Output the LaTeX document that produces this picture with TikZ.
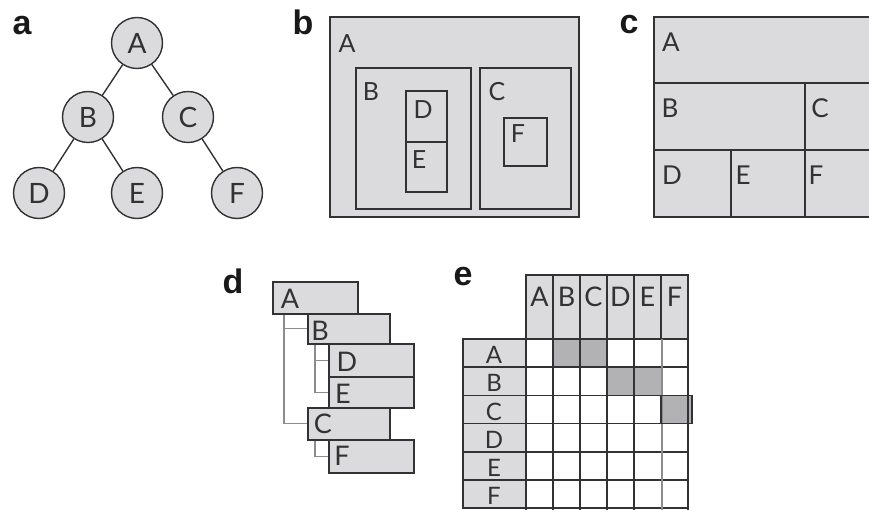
\documentclass[tikz,border=0pt]{standalone}
\usepackage{fontspec}
\setmainfont{Lato}
\newfontfamily\labfont{Liberation Sans}
\begin{document}
\definecolor{boxfill}{RGB}{219,219,221}
\definecolor{linec}{RGB}{50,50,52}
\definecolor{darkcell}{RGB}{178,178,180}
\definecolor{connc}{RGB}{140,140,142}
\definecolor{labc}{RGB}{25,25,25}
\tikzset{
  panellab/.style={font=\labfont\bfseries\fontsize{34}{34}\selectfont, text=labc, inner sep=0pt},
  circ/.style={circle, draw=linec, fill=boxfill, line width=1.4, minimum size=51, inner sep=0pt, font=\fontsize{28}{28}\selectfont, text=linec},
  edge/.style={draw=linec, line width=1.4},
  boxd/.style={draw=linec, fill=boxfill, line width=1.6},
  txt/.style={inner sep=0pt, text=linec},
  dbox/.style={draw=linec, fill=boxfill, line width=1.6, anchor=north west, inner sep=0pt},
  dconn/.style={draw=connc, line width=1.3},
  cell/.style={draw=linec, line width=1.6}
}
\begin{tikzpicture}[x=1pt,y=-1pt]
\useasboundingbox (0,0) rectangle (869,510);
% panel labels
\node[panellab] (la) at (22,26) {a};
\node[panellab] (lb) at (303,22) {b};
\node[panellab] (lc) at (629,25) {c};
\node[panellab] (ld) at (233,281) {d};
\node[panellab] (le) at (463,277) {e};
% ---------- a: tree
\node[circ] (A) at (137,43) {A};
\node[circ] (B) at (88,117) {B};
\node[circ] (C) at (188,117) {C};
\node[circ] (D) at (39,193) {D};
\node[circ] (E) at (137,193) {E};
\node[circ] (F) at (237,193) {F};
\draw[edge] (A) -- (B);
\draw[edge] (A) -- (C);
\draw[edge] (B) -- (D);
\draw[edge] (B) -- (E);
\draw[edge] (C) -- (F);
% ---------- b: nested boxes
\begin{scope}[every node/.style={txt, font=\fontsize{25}{25}\selectfont}]
\draw[boxd] (330,17) rectangle (579,217);
\node (bA) at (347,44) {A};
\draw[boxd] (356,68) rectangle (471,209);
\node (bB) at (371,92) {B};
\draw[boxd] (406,91) rectangle (447,142);
\node (bD) at (423,110) {D};
\draw[boxd] (406,142) rectangle (447,192);
\node (bE) at (419,160) {E};
\draw[boxd] (480,68) rectangle (571,209);
\node (bC) at (497,92) {C};
\draw[boxd] (504,118) rectangle (547,166);
\node (bF) at (518,134) {F};
\end{scope}
% ---------- c: partition
\begin{scope}[every node/.style={txt, font=\fontsize{26}{26}\selectfont}]
\draw[boxd] (654,17) rectangle (880,217);
\draw[linec, line width=1.6] (654,83) -- (880,83);
\draw[linec, line width=1.6] (654,150) -- (880,150);
\draw[linec, line width=1.6] (805,83) -- (805,217);
\draw[linec, line width=1.6] (731,150) -- (731,217);
\node (cA) at (671,42) {A};
\node (cB) at (670,108) {B};
\node (cC) at (820,108) {C};
\node (cD) at (672,175) {D};
\node (cE) at (743,175) {E};
\node (cF) at (816,175) {F};
\end{scope}
% ---------- d: indented list
\begin{scope}[every node/.style={dbox}]
\node[minimum width=85, minimum height=32] (dA) at (272,281) {};
\node[minimum width=82, minimum height=30] (dB) at (307,313) {};
\node[minimum width=85, minimum height=33] (dD) at (328,343) {};
\node[minimum width=85, minimum height=31] (dE) at (328,376) {};
\node[minimum width=82, minimum height=32] (dC) at (307,407) {};
\node[minimum width=85, minimum height=33] (dF) at (328,439) {};
\end{scope}
\draw[dconn] ([xshift=12]dA.south west) |- (dC.west);
\draw[dconn] ([xshift=12]dA.south west) |- (dB.west);
\draw[dconn] ([xshift=8]dB.south west) |- (dE.west);
\draw[dconn] ([xshift=8]dB.south west) |- (dD.west);
\draw[dconn] ([xshift=8]dC.south west) |- (dF.west);
\begin{scope}[every node/.style={txt, font=\fontsize{27}{27}\selectfont}]
\node (tA) at (290,299) {A};
\node (tB) at (320,331) {B};
\node (tD) at (347,362) {D};
\node (tE) at (343,394) {E};
\node (tC) at (323,424) {C};
\node (tF) at (342,456) {F};
\end{scope}
% ---------- e: matrix
\foreach \l [count=\i from 0] in {A,B,C,D,E,F} {
  \pgfmathsetmacro{\xa}{526+27*\i}
  \pgfmathsetmacro{\xb}{553+27*\i}
  \draw[boxd] (\xa,275) rectangle (\xb,339);
  \node[txt, font=\fontsize{27}{27}\selectfont] (h\l) at ({(\xa+\xb)/2},297) {\l};
}
\draw[linec, line width=2.4] (661,275) -- (661,339);
\foreach \l [count=\j from 0] in {A,B,C,D,E,F} {
  \pgfmathsetmacro{\ya}{339+28.2*\j}
  \pgfmathsetmacro{\yb}{339+28.2*(\j+1)}
  \draw[boxd] (463,\ya) rectangle (526,\yb);
  \node[txt, font=\fontsize{24}{24}\selectfont] (r\l) at (494,{(\ya+\yb)/2+2}) {\l};
}
\fill[darkcell] (553,339) rectangle (607,367.2);
\fill[darkcell] (607,367.2) rectangle (661,395.4);
\fill[darkcell] (661,395.4) rectangle (692,423.6);
\foreach \j in {0,...,6} {
  \draw[cell] (526,{339+28.2*\j}) -- (688,{339+28.2*\j});
}
\foreach \i in {0,1,2,3,4,6} {
  \draw[cell] ({526+27*\i},339) -- ({526+27*\i},510);
}
\draw[connc, line width=2] (662,339) -- (662,510);
\draw[cell] (661,395.4) rectangle (692,423.6);
\end{tikzpicture}
\end{document}
